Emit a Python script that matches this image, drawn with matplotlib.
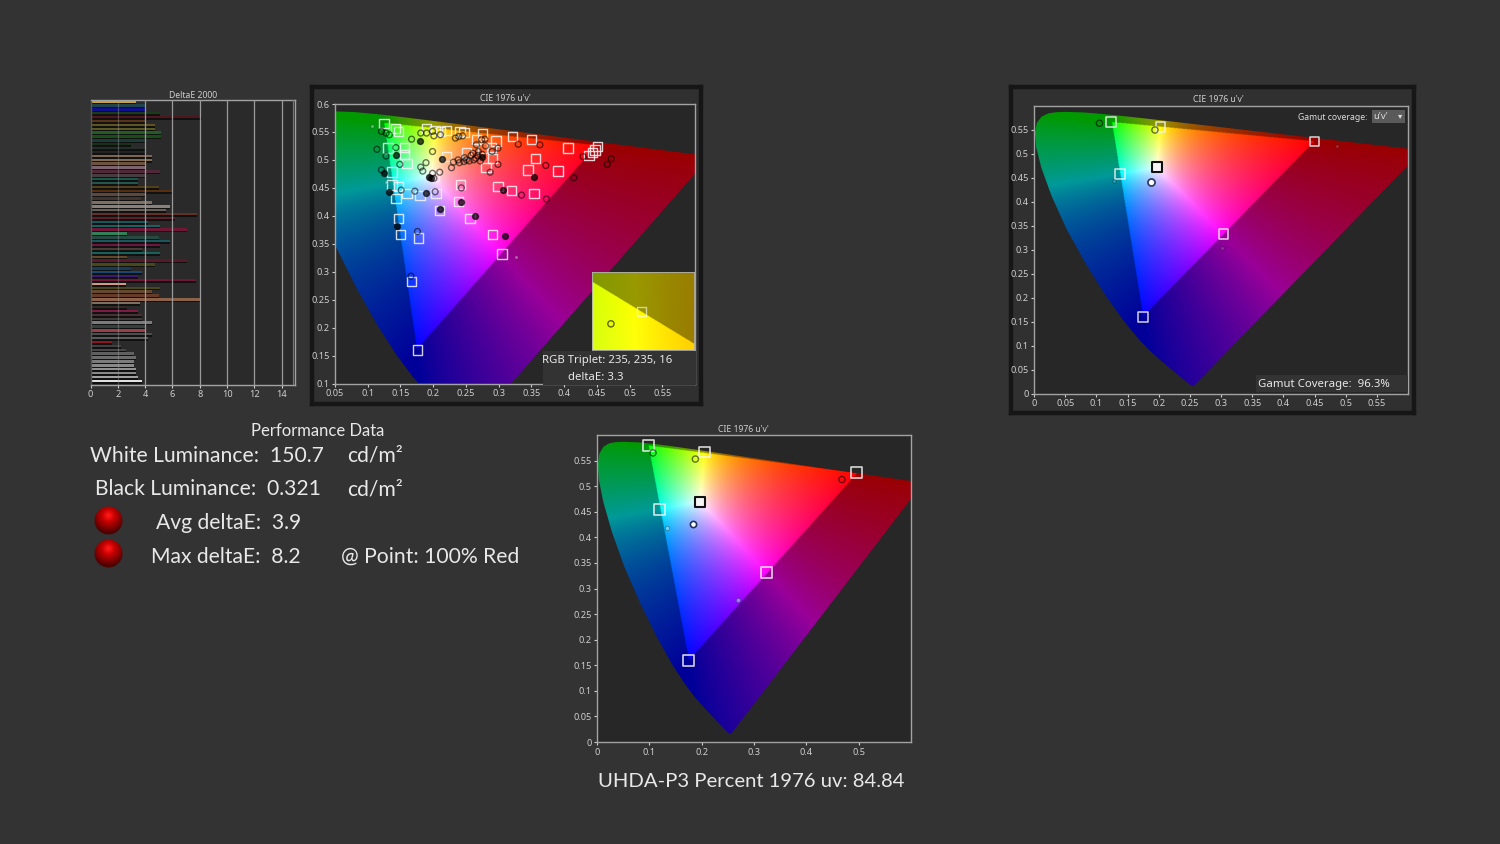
import numpy as np
import matplotlib
matplotlib.use("Agg")
import matplotlib.pyplot as plt
from matplotlib.patches import Polygon, Rectangle

W, H = 1500, 844
BG = "#333333"
PLOT_BG = "#272727"
FRAME = "#a3a3a3"
TICK = "#cfcfcf"
plt.rcParams["font.family"] = ["Noto Sans", "DejaVu Sans"]

# ---------- data ----------
locus_x = [.1741,.1733,.1714,.1689,.1644,.1611,.1566,.1510,.1440,.1355,.1241,.1096,.0913,.0687,.0454,.0235,.0082,.0039,.0139,.0389,.0743,.1142,.1547,.2296,.3016,.3731,.4441,.5125,.5752,.6270,.6915,.7190,.7347]
locus_y = [.0050,.0048,.0051,.0069,.0109,.0138,.0177,.0227,.0297,.0399,.0578,.0868,.1327,.2007,.2950,.4127,.5384,.6548,.7502,.8120,.8338,.8262,.8059,.7543,.6923,.6245,.5547,.4866,.4242,.3725,.3083,.2809,.2653]

white_uv = (0.197, 0.470)
prim_1 = [(0.450, 0.525), (0.125, 0.565), (0.175, 0.160)]
prim_3 = [(0.496, 0.526), (0.098, 0.580), (0.175, 0.160)]

bar_values = [3.3,4.0,4.0,5.1,8.2,4.0,4.7,4.7,5.2,5.2,4.0,3.0,4.1,4.0,4.5,4.5,4.0,4.0,5.1,4.1,3.5,3.5,5.0,6.0,4.0,3.7,4.5,5.8,5.5,7.8,
              6.2,4.2,5.1,7.1,2.7,5.0,5.8,5.1,3.8,5.1,2.7,7.1,4.7,3.0,3.8,3.5,7.7,2.6,5.1,4.5,5.0,8.0,3.6,2.7,3.5,3.8,3.8,4.5,4.1,4.0,
              4.5,4.2,1.6,2.2,2.6,3.2,3.3,3.2,3.2,3.3,3.3,3.5,3.8]
bar_colors = ["#c8a035","#1f4450","#10108a","#1a3c1a","#4f1620","#5a3216","#605424","#5c5824","#225c22","#1a4c1a","#1a3c34","#1a301a","#252e28","#232323","#7c6450","#806c54","#6c5440","#7c6470","#502838","#483c40","#1a5648","#22564e","#503e1c","#582f0e","#5c483c","#40342e","#7c7064","#88807a","#686058","#643028",
              "#582228","#1a565c","#1a6260","#701636","#32805a","#264a42","#1a565c","#701642","#483c34","#16625c","#604828","#581a28","#484818","#163c58","#1a4870","#3c1a70","#701636","#d09a80","#484818","#644830","#643c28","#8c6248","#7c7064","#342828","#801a42","#483034","#403a3a","#7c7c7c","#344038","#983f4c",
              "#4c4c4c","#5a5a5a","#8c1626","#404040","#484848","#606060","#6c6c6c","#7c7c7c","#888888","#909090","#888888","#a0a0a0","#e0e0e0"]
bar_ticks = [0, 2, 4, 6, 8, 10, 12, 14]

squares_1_u = [.125,.142,.147,.131,.156,.156,.160,.137,.137,.147,.160,.180,.204,.143,.147,.150,.178,.167,.176,.190,.203,.211,.220,.241,.247,.275,.266,.296,.321,.350,.276,.289,.406,.451,.447,.443,.438,.356,.291,.251,.220,.201,.281,.345,.391,.242,.299,.320,.354,.239,.210,.256,.291,.305]
squares_1_v = [.565,.556,.551,.521,.522,.510,.494,.478,.455,.452,.440,.436,.440,.431,.395,.367,.360,.282,.160,.556,.553,.551,.553,.551,.549,.546,.536,.534,.542,.537,.521,.522,.521,.524,.518,.513,.508,.502,.503,.512,.506,.470,.486,.482,.480,.456,.452,.445,.440,.426,.409,.395,.367,.332]
open_1_u = [.121,.128,.133,.167,.181,.190,.199,.201,.211,.234,.239,.245,.274,.279,.114,.128,.143,.149,.121,.181,.184,.189,.199,.199,.210,.201,.228,.231,.238,.248,.251,.261,.269,.266,.299,.299,.287,.330,.363,.372,.429,.466,.472,.415,.373,.335,.243,.203,.172,.151,.176,.166,.255,.265,.272,.247,.240,.258,.262,.268,.275,.280,.290]
open_1_v = [.551,.548,.545,.537,.548,.548,.551,.543,.545,.539,.542,.543,.536,.537,.519,.507,.522,.492,.482,.487,.480,.495,.515,.476,.478,.467,.486,.496,.500,.504,.500,.512,.515,.527,.521,.492,.478,.528,.527,.490,.506,.492,.502,.468,.430,.437,.450,.443,.444,.446,.372,.292,.498,.503,.498,.497,.495,.508,.500,.508,.510,.525,.515]
filled_1_u = [.180,.143,.125,.213,.194,.197,.274,.354,.307,.189,.133,.243,.210,.264,.310,.145]
filled_1_v = [.534,.508,.476,.502,.469,.468,.506,.470,.446,.440,.442,.425,.412,.400,.364,.381]
dots_1_u = [.106,.326,.128]
dots_1_v = [.561,.327,.460]

squares_2_u = [.124,.203,.450,.138,.304,.175]
squares_2_v = [.565,.556,.525,.458,.333,.160]
white_2 = (.197,.472)
open_2_u = [.105,.194]
open_2_v = [.563,.549]
small_2_u = [.129,.301,.486]
small_2_v = [.442,.303,.516]
meas_white_2 = (.188,.440)

squares_3_u = [.098,.205,.496,.120,.324,.175]
squares_3_v = [.580,.567,.526,.455,.331,.160]
white_3 = (.197,.470)
open_3_u = [.107,.188,.468]
open_3_v = [.565,.553,.513]
small_3_u = [.134,.269]
small_3_v = [.419,.277]
meas_white_3 = (.183,.427)

ticks_1x = [.05,.1,.15,.2,.25,.3,.35,.4,.45,.5,.55]
ticks_1y = [.1,.15,.2,.25,.3,.35,.4,.45,.5,.55,.6]
ticks_2x = [0,.05,.1,.15,.2,.25,.3,.35,.4,.45,.5,.55]
ticks_2y = [0,.05,.1,.15,.2,.25,.3,.35,.4,.45,.5,.55]
ticks_3x = [0,.1,.2,.3,.4,.5]
ticks_3y = ticks_2y

# ---------- helpers ----------
fig = plt.figure(figsize=(W/100, H/100), dpi=100, facecolor=BG)

def ax_px(l, t, r, b, **kw):
    return fig.add_axes([l/W, 1-b/H, (r-l)/W, (b-t)/H], **kw)

def text_px(x, y, s, size, color="#e8e8e8", ha="left", family=None, **kw):
    return fig.text(x/W, 1-y/H, s, fontsize=size, color=color, ha=ha, va="center",
                    family=family or "Lato", **kw)

def uv_to_xyz(u, v):
    return np.stack([9*u/(4*v), np.ones_like(u), (12-3*u-20*v)/(4*v)], axis=-1)

def inverse_matrix(prims):
    P = np.stack([uv_to_xyz(np.array(a), np.array(b)) for a, b in prims], axis=1)
    w = uv_to_xyz(np.array(white_uv[0]), np.array(white_uv[1]))
    s = np.linalg.solve(P, w)
    return np.linalg.inv(P*s)

def gamut_image(prims, u0, u1, v0, v1, n=700):
    u, v = np.meshgrid(np.linspace(u0, u1, n), np.linspace(v0, v1, n))
    lin = uv_to_xyz(u, v) @ inverse_matrix(prims).T
    inside = lin.min(axis=-1) >= 0
    lin = np.clip(lin, 0, None)
    lin = lin/np.maximum(lin.max(axis=-1, keepdims=True), 1e-6)
    rgb = lin**0.8
    rgb = np.where(inside[..., None], rgb, rgb*0.6)
    return rgb

def locus_polygon():
    x, y = np.array(locus_x), np.array(locus_y)
    d = -2*x+12*y+3
    return np.column_stack([4*x/d, 9*y/d])

def cie_axes(box, xlim, ylim, xticks, yticks, prims, title_xy):
    ax = ax_px(*box, facecolor=PLOT_BG)
    ext = (*xlim, *ylim)
    im = ax.imshow(gamut_image(prims, *ext), extent=ext, origin="lower",
                   aspect="auto", interpolation="bilinear", zorder=1)
    im.set_clip_path(Polygon(locus_polygon(), closed=True, transform=ax.transData))
    ax.set_xlim(xlim); ax.set_ylim(ylim)
    ax.set_xticks(xticks); ax.set_yticks(yticks)
    ax.set_xticklabels([f"{t:g}" for t in xticks])
    ax.set_yticklabels([f"{t:g}" for t in yticks])
    ax.tick_params(colors=TICK, labelsize=6.6, length=2.5, width=0.8, pad=1.5)
    for s in ax.spines.values():
        s.set_color(FRAME); s.set_linewidth(1)
    text_px(*title_xy, "CIE 1976 u'v'", 6.2, color=TICK, ha="center", family="Noto Sans")
    return ax

def sq(ax, u, v, edge=(.96, .96, .96, .85), size=50, lw=1.1, face="none", z=5):
    ax.scatter(u, v, marker="s", s=size, facecolors=face, edgecolors=edge, linewidths=lw, zorder=z)

def circ(ax, u, v, edge=(0, 0, 0, .55), size=20, lw=1.0, face="none", z=6):
    ax.scatter(u, v, marker="o", s=size, facecolors=face, edgecolors=edge, linewidths=lw, zorder=z)

def panel(l, t, r, b):
    a = ax_px(l, t, r, b, facecolor="#303030", zorder=-5)
    a.set_xticks([]); a.set_yticks([])
    for s in a.spines.values():
        s.set_color("#161616"); s.set_linewidth(3.2)

# ---------- DeltaE bars ----------
ax = ax_px(90.5, 100, 295, 385, facecolor="#2a2a2a")
n = len(bar_values)
ypos = np.arange(n)
ax.barh(ypos+0.22, bar_values, height=0.6, color="#111111", zorder=2)
ax.barh(ypos-0.18, bar_values, height=0.62, color=bar_colors, zorder=2.2)
ax.set_xlim(0, 14.98)
ax.set_ylim(n-0.1, -0.6)
ax.set_xticks(bar_ticks); ax.set_yticks([])
for t in bar_ticks[2:]:
    ax.axvline(t, color="#9a9a9a", lw=0.9, zorder=3)
ax.axvline(2, color="#9a9a9a", lw=0.9, alpha=.4, zorder=3)
ax.axvline(14.85, color="#777777", lw=0.8, zorder=3)
ax.tick_params(colors=TICK, labelsize=6.6, length=2, width=0.8, pad=1.5)
for k, s in ax.spines.items():
    s.set_color(FRAME); s.set_linewidth(1)
ax.spines["left"].set_color("#555555")
text_px(193, 95.5, "DeltaE 2000", 6.2, color=TICK, ha="center", family="Noto Sans")

# ---------- chart 1 ----------
panel(311.5, 87, 701, 404)
a1 = cie_axes((335, 104, 695, 383.5), (.05, .6), (.1, .6), ticks_1x, ticks_1y, prim_1, (505, 98.5))
sq(a1, squares_1_u, squares_1_v, size=46, lw=1.0)
circ(a1, open_1_u, open_1_v, size=18)
circ(a1, filled_1_u, filled_1_v, edge=(0, 0, 0, .65), size=18, face=(0, 0, 0, .7))
circ(a1, dots_1_u, dots_1_v, edge=(0, 0, 0, .2), size=6, lw=.5, face=(1, 1, 1, .35))

ins = ax_px(591.5, 271.5, 694, 350, facecolor=PLOT_BG, zorder=4)
ins_ext = (.1908, .2198, .5530, .5575)
ins.imshow(gamut_image(prim_1, *ins_ext, n=200), extent=ins_ext, origin="lower", aspect="auto")
ins.set_xlim(ins_ext[:2]); ins.set_ylim(ins_ext[2:])
ins.set_xticks([]); ins.set_yticks([])
for s in ins.spines.values():
    s.set_color("#b0b0b0"); s.set_linewidth(.6)
sq(ins, [.2049], [.5552], edge=(1, 1, 1, .6), size=36, lw=1.0)
circ(ins, [.1963], [.5545], edge=(0, 0, 0, .6), size=20)

cover = ax_px(543, 351, 696, 385, facecolor=BG, zorder=5)
cover.set_xticks([]); cover.set_yticks([])
for s in cover.spines.values():
    s.set_visible(False)
text_px(607, 361, "RGB Triplet: 235, 235, 16", 8.15, ha="center", zorder=9, family="Noto Sans")
text_px(596, 377, "deltaE: 3.3", 8.15, ha="center", zorder=9, family="Noto Sans")

# ---------- chart 2 ----------
panel(1010.5, 87, 1414, 413)
a2 = cie_axes((1034, 105.5, 1408, 393.5), (0, .6), (0, .6), ticks_2x, ticks_2y, prim_1, (1218, 99.5))
sq(a2, squares_2_u, squares_2_v, size=50)
sq(a2, *white_2, edge="#111111", size=54, lw=1.5, face="#f5f5f5")
circ(a2, open_2_u, open_2_v, size=20)
circ(a2, small_2_u, small_2_v, edge=(0, 0, 0, .3), size=7, lw=.5, face=(1, 1, 1, .15))
circ(a2, *meas_white_2, edge="#30406a", size=26, lw=1.3, face="#ffffff")
text_px(1333, 117.5, "Gamut coverage:", 6.2, color="#dddddd", ha="center", family="Noto Sans", zorder=9)
combo = ax_px(1372, 109.5, 1405, 122.5, facecolor="#5a5a5a", zorder=6)
combo.set_xticks([]); combo.set_yticks([])
for s in combo.spines.values():
    s.set_visible(False)
text_px(1381, 116.5, "u'v'", 6.8, color="#dddddd", ha="center", family="Noto Sans", zorder=9)
text_px(1400, 116, "▾", 6, color="#dddddd", ha="center", family="DejaVu Sans", zorder=9)
gc = ax_px(1256, 375, 1407.5, 391.5, facecolor=BG, zorder=6)
gc.set_xticks([]); gc.set_yticks([])
for s in gc.spines.values():
    s.set_visible(False)
text_px(1324, 384, "Gamut Coverage:  96.3%", 8.2, ha="center", family="Noto Sans", zorder=9)

# ---------- chart 3 ----------
a3 = cie_axes((597, 435, 911, 742), (0, .6), (0, .6), ticks_3x, ticks_3y, prim_3, (743, 429.5))
sq(a3, squares_3_u, squares_3_v, size=60, lw=1.2)
sq(a3, *white_3, edge="#111111", size=60, lw=1.5, face="#f5f5f5")
circ(a3, open_3_u, open_3_v, size=20)
circ(a3, small_3_u, small_3_v, edge=(0, .3, .3, .5), size=10, lw=.6, face=(1, 1, 1, .4))
circ(a3, *meas_white_3, edge="#203060", size=20, lw=1.2, face="#ffffff")

# ---------- text block ----------
text_px(318, 430.5, "Performance Data", 12, ha="center")
text_px(90, 456, "White Luminance:  150.7", 15.2)
text_px(347, 456, "cd/m²", 15.2)
text_px(95, 489, "Black Luminance:  0.321", 15.2)
text_px(347, 489, "cd/m²", 15.2)
text_px(156, 523, "Avg deltaE:  3.9", 15.2)
text_px(151, 557, "Max deltaE:  8.2", 15.2)
text_px(341, 557, "@ Point: 100% Red", 15.2)
text_px(751, 781.5, "UHDA-P3 Percent 1976 uv: 84.84", 14.6, ha="center")

def sphere(cx, cy, r=14.5):
    a = ax_px(cx-r, cy-r, cx+r, cy+r)
    a.axis("off"); a.patch.set_alpha(0)
    yy, xx = np.mgrid[-1:1:80j, -1:1:80j]
    d = np.hypot(xx, yy+.35)
    shade = np.clip(1.05-0.62*d, .3, 1)
    img = np.zeros((80, 80, 4))
    img[..., 0] = shade
    img[..., 1] = np.clip(.22-.5*d, 0, 1)*.5
    img[..., 2] = np.clip(.22-.5*d, 0, 1)*.5
    img[..., 3] = np.clip((1-np.hypot(xx, yy))*18, 0, 1)
    a.imshow(img, origin="upper", extent=(-1, 1, -1, 1), aspect="auto")

sphere(108.5, 520.5)
sphere(108.5, 554)

fig.savefig("out.png", dpi=100, facecolor=BG)
